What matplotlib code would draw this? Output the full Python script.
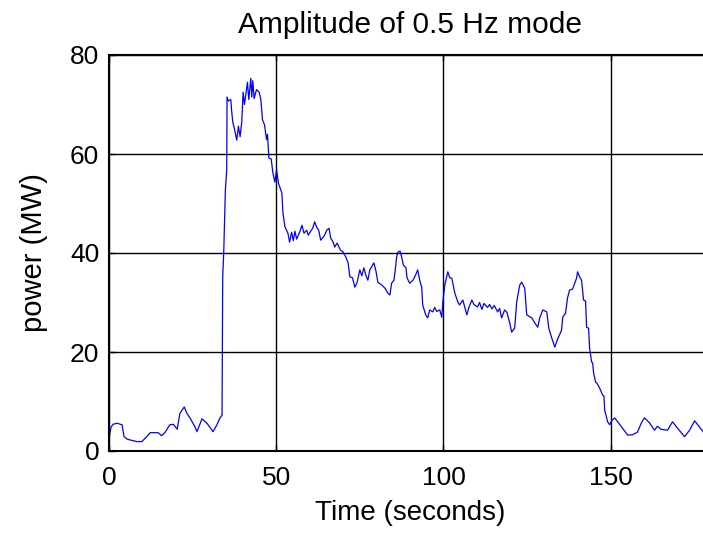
import matplotlib
matplotlib.use("Agg")
import matplotlib.pyplot as plt

# time (s) and amplitude (MW)
t = [0, 0.6, 1.2, 2.4, 3.9, 4.5, 5.4, 6.5, 8.3, 9.8, 11.3, 12.3, 14.7, 15.7, 16.7,
     18.2, 19.2, 20.4, 21.2, 22.5, 23.3, 24.2, 25.7, 26.3, 27.8, 29.3, 31.1, 32.2,
     33.2, 33.8, 34.0, 34.3, 34.8, 35.2, 35.3, 35.7, 36.4, 36.7, 37.0, 37.6, 38.2,
     38.7, 39.2, 39.7, 40.1, 40.5, 40.8, 41.4, 41.8, 42.4, 42.7, 43.0, 43.4, 44.1,
     44.9, 45.4, 45.9, 46.5, 47.1, 47.4, 47.8, 48.5, 49.0, 49.6, 50.1, 50.7, 51.7,
     52.0, 52.6, 53.5, 54.0, 54.6, 55.1, 55.6, 56.1, 56.5, 57.0, 57.7, 58.3, 59.1,
     59.6, 60.1, 60.9, 61.5, 62.1, 62.7, 63.3, 64.3, 65.1, 65.8, 66.3, 67.0, 67.5,
     68.2, 69.2, 70.0, 70.8, 71.5, 72.0, 72.8, 73.5, 74.2, 75.0, 75.6, 76.2, 76.8,
     77.4, 78.0, 79.2, 79.8, 80.4, 81.6, 82.5, 83.4, 84.0, 84.5, 85.2, 85.6, 86.0,
     86.4, 87.0, 87.5, 88.0, 88.8, 89.1, 89.9, 90.9, 91.7, 92.3, 92.9, 93.5, 93.8,
     94.7, 95.3, 95.9, 96.8, 97.4, 98.0, 98.9, 99.5, 99.8, 100.4, 101.3, 101.9,
     102.5, 103.4, 104.3, 104.8, 105.8, 106.4, 107.0, 107.6, 108.5, 109.1, 110.2,
     110.8, 111.5, 112.1, 113.2, 113.8, 114.5, 115.2, 116.2, 116.8, 117.4, 118.3,
     119.0, 119.8, 120.4, 121.3, 121.9, 122.8, 123.4, 124.3, 124.9, 126.4, 127.3,
     128.2, 128.8, 129.7, 130.9, 131.5, 132.4, 133.3, 133.8, 134.4, 135.3, 135.7,
     136.5, 137.1, 137.7, 138.6, 139.2, 139.8, 140.1, 140.7, 141.3, 141.9, 142.5,
     142.8, 143.4, 143.7, 144.3, 144.6, 144.9, 145.5, 145.9, 146.7, 147.6, 148.0,
     148.2, 149.1, 149.7, 150.4, 151.2, 152.1, 153.6, 155.1, 156.6, 158.0, 159.2,
     160.1, 161.6, 163.1, 164.0, 165.0, 167.0, 168.5, 170.0, 172.1, 173.6, 175.1,
     176.6, 178.0]
power = [2.6, 4.8, 5.4, 5.6, 5.3, 2.9, 2.4, 2.2, 1.9, 1.9, 2.9, 3.7, 3.7, 3.1, 3.7,
         5.3, 5.4, 4.4, 7.6, 8.9, 7.6, 6.7, 4.9, 3.9, 6.5, 5.6, 3.9, 5.2,
         6.7, 7.2, 35.2, 40.0, 52.7, 56.8, 71.5, 70.7, 71.0, 68.5, 66.5, 64.8, 62.8,
         65.6, 63.5, 66.5, 72.5, 70.0, 71.5, 74.5, 71.0, 75.3, 71.5, 74.8, 71.2, 73.0,
         72.5, 71.0, 66.9, 65.9, 62.9, 64.0, 59.2, 59.0, 56.2, 54.3, 56.8, 54.0, 52.1,
         48.1, 45.3, 44.0, 42.2, 44.2, 42.5, 44.4, 42.8, 43.4, 44.2, 45.6, 44.0, 44.6,
         43.6, 44.2, 45.0, 46.3, 45.2, 44.6, 42.6, 43.4, 44.6, 45.0, 43.0, 42.2, 41.2,
         42.0, 40.6, 40.2, 39.2, 38.0, 35.2, 35.0, 33.1, 34.1, 36.6, 35.4, 37.0, 35.5,
         34.5, 36.6, 38.0, 36.4, 34.1, 33.5, 32.9, 31.9, 31.5, 33.9, 34.5, 36.6, 39.2,
         40.2, 40.4, 39.2, 37.6, 37.0, 35.0, 33.9, 34.5, 35.6, 36.6, 34.5, 33.1, 29.5,
         27.5, 26.9, 28.5, 28.1, 29.0, 28.2, 28.5, 27.0, 29.9, 33.5, 36.2, 35.0,
         34.9, 31.9, 30.1, 29.5, 30.5, 29.0, 27.5, 29.0, 30.5, 29.6, 29.1,
         30.0, 28.6, 29.8, 29.0, 29.6, 28.7, 29.4, 28.1, 28.8, 26.9, 28.5,
         28.0, 25.9, 24.0, 24.8, 30.1, 33.5, 34.1, 32.9, 27.5, 26.9, 25.9,
         25.0, 26.9, 28.5, 28.1, 24.8, 22.8, 21.0, 22.0, 23.0, 24.4, 27.1,
         27.8, 30.9, 32.5, 32.7, 33.8, 34.9, 36.2, 35.2, 34.5, 30.5, 30.3,
         25.0, 24.8, 20.8, 18.0, 17.8, 15.8, 13.9, 13.7, 12.7, 11.3, 11.1,
         8.3, 5.9, 5.3, 6.2, 6.7, 5.9, 4.6, 3.2, 3.3, 3.8, 5.7,
         6.7, 5.7, 4.2, 5.0, 4.4, 4.2, 5.9, 4.6, 2.9, 4.2, 6.1,
         4.8, 3.6]

plt.rcParams['font.family'] = ['Liberation Sans', 'DejaVu Sans']

fig = plt.figure(figsize=(7.03, 5.33), dpi=100)
ax = fig.add_axes([109 / 703, 82 / 533, 602 / 703, 396 / 533])

ax.plot(t, power, color='#0000ff', linewidth=0.9)

ax.set_xlim(0, 180)
ax.set_ylim(0, 80)
ax.set_xticks([0, 50, 100, 150])
ax.set_yticks([0, 20, 40, 60, 80])
ax.grid(True, color='black', linestyle='-', linewidth=1.0)
ax.tick_params(direction='in', length=4, width=1, top=True, right=True, labelsize=19)
ax.tick_params(axis='x', pad=11)
ax.tick_params(axis='y', pad=7)
for s in ax.spines.values():
    s.set_linewidth(1.5)

ax.set_title('Amplitude of 0.5 Hz mode', fontsize=21.5, pad=16)
ax.set_xlabel('Time (seconds)', fontsize=20, labelpad=7)
ax.set_ylabel('power (MW)', fontsize=21, labelpad=16)

fig.savefig('out.png', dpi=100)
